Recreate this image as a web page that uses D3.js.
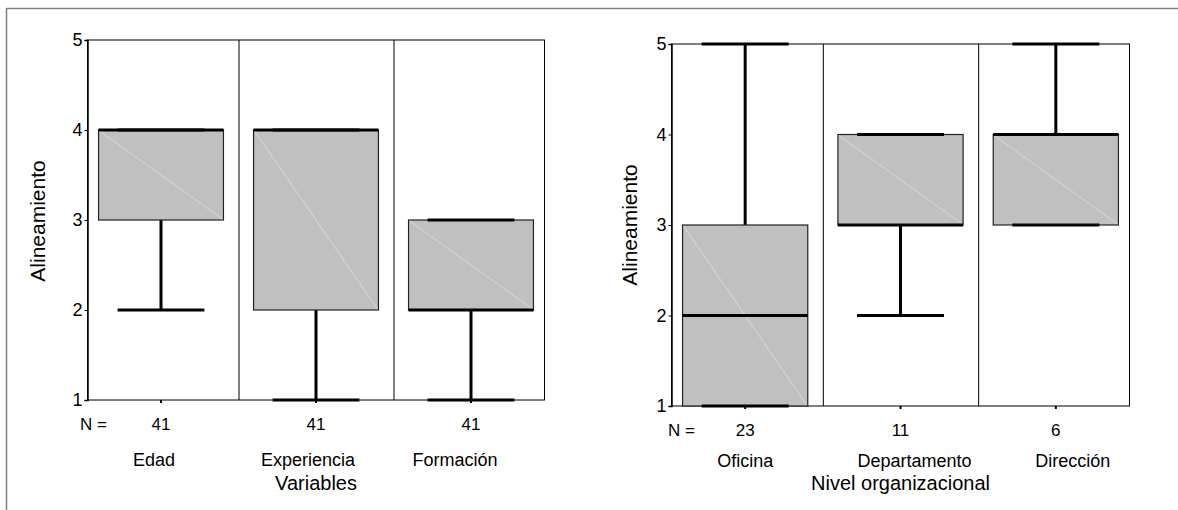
<!DOCTYPE html>
<html>
<head>
<meta charset="utf-8">
<script src="https://cdn.jsdelivr.net/npm/d3@7"></script>
<style>
  body { margin: 0; background: #fff; }
  svg { display: block; font-family: "Liberation Sans", Arial, sans-serif; }
</style>
</head>
<body>
<svg width="1178" height="510"></svg>
<script>
// values
const yTicks = [1, 2, 3, 4, 5];

const varCategories = ["Edad", "Experiencia", "Formación"];
const varN = [41, 41, 41];
const varMin = [2, 1, 1];
const varQ1 = [3, 2, 2];
const varMedian = [4, 4, 2];
const varQ3 = [4, 4, 3];
const varMax = [4, 4, 3];

const nivelCategories = ["Oficina", "Departamento", "Dirección"];
const nivelN = [23, 11, 6];
const nivelMin = [1, 2, 3];
const nivelQ1 = [1, 3, 3];
const nivelMedian = [2, 3, 4];
const nivelQ3 = [3, 4, 4];
const nivelMax = [5, 4, 5];

const svg = d3.select("svg");

// outer frame (top and left edges only, as in the picture)
svg.append("line").attr("x1", 6.5).attr("x2", 1178).attr("y1", 8.5).attr("y2", 8.5)
    .attr("stroke", "#808080").attr("stroke-width", 1.5);
svg.append("line").attr("x1", 6.5).attr("x2", 6.5).attr("y1", 8).attr("y2", 510)
    .attr("stroke", "#808080").attr("stroke-width", 1.5);

function drawPanel(p) {
    const g = svg.append("g");
    const x = d3.scaleBand().domain(p.categories).range(p.xRange).padding(0);
    const y = d3.scaleLinear().domain([1, 5]).range(p.yRange);
    const bw = x.bandwidth();
    const left = p.xRange[0] + 4, right = p.xRange[1] - 4;

    const rows = p.categories.map((c, i) => ({
        cat: c, n: p.n[i], min: p.min[i], q1: p.q1[i], med: p.median[i], q3: p.q3[i], max: p.max[i]
    }));

    // plot frame + dividers
    g.append("rect").attr("x", left).attr("y", y(5)).attr("width", right - left).attr("height", y(1) - y(5))
        .attr("fill", "none").attr("stroke", "#000").attr("stroke-width", 1);
    g.selectAll(".div").data(p.categories.slice(1)).join("line")
        .attr("x1", d => x(d) + 0.5).attr("x2", d => x(d) + 0.5)
        .attr("y1", y(5)).attr("y2", y(1))
        .attr("stroke", "#000").attr("stroke-width", 1);

    // y axis
    const yAxis = g.append("g").attr("transform", `translate(${left},0)`)
        .call(d3.axisLeft(y).tickValues(yTicks).tickFormat(d3.format("d")).tickSize(3).tickPadding(2));
    yAxis.select(".domain").attr("stroke-width", 1.5);
    yAxis.selectAll("text").attr("font-size", 18).attr("fill", "#000")
        .attr("font-family", "Liberation Sans, Arial, sans-serif");

    // x ticks at category centers
    g.selectAll(".xt").data(p.categories).join("line")
        .attr("x1", d => x(d) + bw / 2).attr("x2", d => x(d) + bw / 2)
        .attr("y1", y(1)).attr("y2", y(1) + 3)
        .attr("stroke", "#000").attr("stroke-width", 2);

    const boxW = bw * 0.806, capW = bw * 0.56;
    const cx = d => x(d.cat) + bw / 2;

    // whiskers
    g.selectAll(".wh").data(rows).join("line")
        .attr("x1", cx).attr("x2", cx).attr("y1", d => y(d.min)).attr("y2", d => y(d.max))
        .attr("stroke", "#000").attr("stroke-width", 3);

    // boxes
    const box = g.selectAll(".box").data(rows).join("g");
    box.append("rect")
        .attr("x", d => cx(d) - boxW / 2).attr("y", d => y(d.q3))
        .attr("width", boxW).attr("height", d => y(d.q1) - y(d.q3))
        .attr("fill", "#c0c0c0").attr("stroke", "#222").attr("stroke-width", 1.2);
    box.append("line")
        .attr("x1", d => cx(d) - boxW / 2 + 1).attr("y1", d => y(d.q3) + 1)
        .attr("x2", d => cx(d) + boxW / 2 - 1).attr("y2", d => y(d.q1) - 1)
        .attr("stroke", "#dedede").attr("stroke-width", 0.8);

    // caps
    ["min", "max"].forEach(k => {
        g.selectAll(".cap-" + k).data(rows).join("line")
            .attr("x1", d => cx(d) - capW / 2).attr("x2", d => cx(d) + capW / 2)
            .attr("y1", d => y(d[k])).attr("y2", d => y(d[k]))
            .attr("stroke", "#000").attr("stroke-width", 3);
    });

    // medians
    g.selectAll(".med").data(rows).join("line")
        .attr("x1", d => cx(d) - boxW / 2).attr("x2", d => cx(d) + boxW / 2)
        .attr("y1", d => y(d.med)).attr("y2", d => y(d.med))
        .attr("stroke", "#000").attr("stroke-width", 3);

    // N row
    g.append("text").attr("x", p.nX).attr("y", y(1) + 30).attr("font-size", 17).text("N =");
    g.selectAll(".nv").data(rows).join("text")
        .attr("x", cx).attr("y", y(1) + 30).attr("text-anchor", "middle").attr("font-size", 17)
        .text(d => d.n);

    // category labels
    g.selectAll(".cl").data(rows).join("text")
        .attr("x", (d, i) => cx(d) + p.catDx[i]).attr("y", p.catY).attr("text-anchor", "middle").attr("font-size", 18)
        .text(d => d.cat);

    // axis titles
    g.append("text").attr("x", (p.xRange[0] + p.xRange[1]) / 2).attr("y", 490)
        .attr("text-anchor", "middle").attr("font-size", 20).text(p.xTitle);
    g.append("text").attr("transform", `translate(${p.yTitleX},${p.yTitleY}) rotate(-90)`)
        .attr("text-anchor", "middle").attr("font-size", 21).text("Alineamiento");
}

drawPanel({
    categories: varCategories, n: varN, min: varMin, q1: varQ1, median: varMedian, q3: varQ3, max: varMax,
    xRange: [83.5, 548.5], yRange: [400, 40], nX: 80, catY: 466, catDx: [-7, -8, -16],
    xTitle: "Variables", yTitleX: 45, yTitleY: 221
});

drawPanel({
    categories: nivelCategories, n: nivelN, min: nivelMin, q1: nivelQ1, median: nivelMedian, q3: nivelQ3, max: nivelMax,
    xRange: [667.5, 1133.5], yRange: [406, 44], nX: 668, catY: 467, catDx: [0, 14, 17],
    xTitle: "Nivel organizacional", yTitleX: 637, yTitleY: 225
});
</script>
</body>
</html>
